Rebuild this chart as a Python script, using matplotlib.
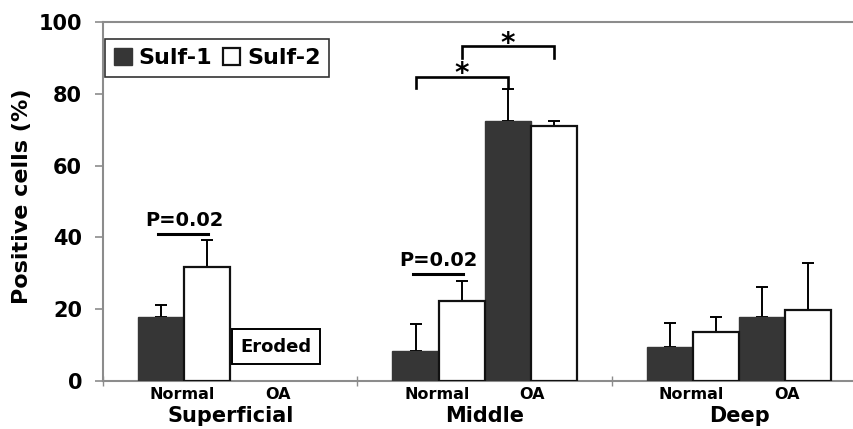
import matplotlib
matplotlib.use('Agg')
import matplotlib.pyplot as plt
import numpy as np

plt.rcParams['font.family'] = ['DejaVu Sans']
plt.rcParams['font.weight'] = 'bold'

# data (% positive cells)
groups = ['Superficial', 'Middle', 'Deep']
conditions = ['Normal', 'OA']
sulf1_mean = [17.7, np.nan, 8.4, 72.4, 9.6, 17.9]
sulf1_err = [3.5, np.nan, 7.5, 8.9, 6.5, 8.2]
sulf2_mean = [31.8, np.nan, 22.3, 71.0, 13.6, 19.8]
sulf2_err = [7.4, np.nan, 5.6, 1.5, 4.3, 13.0]
yticks = [0, 20, 40, 60, 80, 100]

dark = '#363636'
w = 0.362

fig = plt.figure(figsize=(8.54, 4.29), dpi=100)
ax = fig.add_axes([0.1206, 0.1119, 0.894, 0.8368])

slots = np.arange(6)
cond = slots % 2
# normal pair sits on the right of its slot, OA pair on the left of its slot
left = slots + np.where(cond == 0, 0.275, 0.0)
x1 = left + w / 2
x2 = left + 1.5 * w

s1 = np.array(sulf1_mean)
s2 = np.array(sulf2_mean)
e1 = np.array(sulf1_err)
e2 = np.array(sulf2_err)

ax.bar(x1, s1, w, color=dark, edgecolor=dark, linewidth=1, label='Sulf-1', zorder=3)
ax.bar(x2, s2, w, color='white', edgecolor='#111111', linewidth=1.6, label='Sulf-2', zorder=3)
ax.errorbar(x1, s1, yerr=[np.zeros(6), e1], fmt='none', ecolor='black',
            elinewidth=1.4, capsize=4, capthick=1.4, zorder=2)
ax.errorbar(x2, s2, yerr=[np.zeros(6), e2], fmt='none', ecolor='black',
            elinewidth=1.4, capsize=4, capthick=1.4, zorder=2)

ax.set_xlim(0, 6)
ax.set_ylim(0, 100)
ax.set_yticks(yticks)
ax.set_yticklabels([str(t) for t in yticks], fontsize=15, fontweight='bold')
fig.text(22 / 854, 1 - 196 / 429, 'Positive cells (%)', rotation=90, ha='center', va='center',
         fontsize=16, fontweight='bold')

# spines / ticks like the excel original
for s in ['left', 'bottom', 'top']:
    ax.spines[s].set_color('#8c8c8c')
    ax.spines[s].set_linewidth(1.5)
ax.spines['right'].set_visible(False)
ax.tick_params(axis='y', length=6, width=1.2, color='#8c8c8c', pad=9)
ax.set_xticks([0, 2, 4, 6])
ax.set_xticklabels([])
ax.tick_params(axis='x', length=7, width=1, color='#8c8c8c', direction='inout')

# category labels
trans = ax.get_xaxis_transform()
for g, name in enumerate(groups):
    mid = 2 * g + 1
    ax.text(mid - 0.375, -0.037, conditions[0], transform=trans, ha='center', va='center',
            fontsize=11.5, fontweight='bold')
    ax.text(mid + 0.375, -0.037, conditions[1], transform=trans, ha='center', va='center',
            fontsize=11.5, fontweight='bold')
    ax.text(mid, -0.097, name, transform=trans, ha='center', va='center',
            fontsize=15, fontweight='bold')

# eroded box for superficial OA
ax.text(1.36, 9.6, 'Eroded', ha='center', va='center', fontsize=13, fontweight='bold',
        bbox=dict(boxstyle='square,pad=0.45', facecolor='white', edgecolor='black', linewidth=1.4),
        zorder=4)

# P=0.02 lines
for i in [0, 2]:
    top = max(s1[i] + e1[i], s2[i] + e2[i]) + 1.8
    ax.plot([x1[i] - 0.02, x2[i] + 0.01], [top, top], color='black', lw=2.2)
    ax.text((x1[i] + x2[i]) / 2, top + 1.2, 'P=0.02', ha='center', va='bottom',
            fontsize=14, fontweight='bold')

# significance brackets in middle zone
brackets = [(x1[2], x1[3], 84.8), (x2[2], x2[3], 93.3)]
for xa, xb, yb in brackets:
    ax.plot([xa, xa, xb, xb], [yb - 3.3, yb, yb, yb - 3.3], color='black', lw=1.9,
            solid_joinstyle='miter')
    ax.text((xa + xb) / 2, yb - 1.6, '*', ha='center', va='baseline', fontsize=20,
            fontweight='bold')

leg = ax.legend(loc='upper left', bbox_to_anchor=(0.003, 0.953), borderaxespad=0, ncol=2,
                frameon=True, fancybox=False, handlelength=0.78, handleheight=0.8,
                handletextpad=0.3, columnspacing=0.5, borderpad=0.4,
                prop={'weight': 'bold', 'size': 16})
leg.get_frame().set_edgecolor('black')
leg.get_frame().set_linewidth(1.2)

plt.savefig('out.png', dpi=100)
